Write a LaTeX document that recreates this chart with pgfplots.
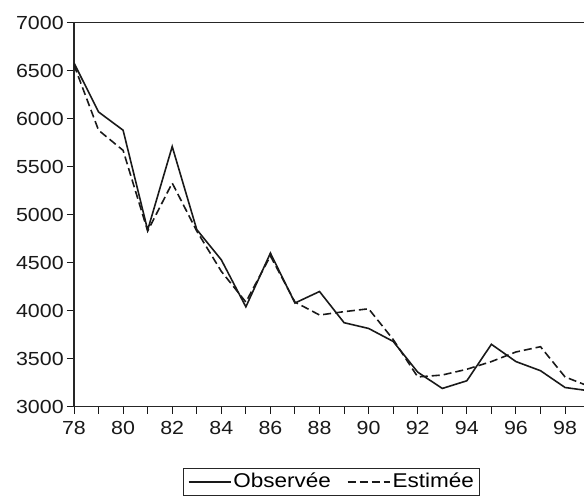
\documentclass[border=0pt]{standalone}
\usepackage{fontspec}
\setmainfont{Liberation Sans}[FakeStretch=1.13]
\usepackage{pgfplots}
\pgfplotsset{compat=1.18}
\begin{document}
\fontsize{18.5}{22}\selectfont
\begin{tikzpicture}
\begin{axis}[
  at={(0,0)}, anchor=south west,
  scale only axis,
  width=515.6bp, height=384bp,
  xmin=78, xmax=99, ymin=3000, ymax=7000,
  xtick={78,80,...,98},
  minor xtick={79,81,...,99},
  ytick={3000,3500,...,7000},
  tick align=outside,
  xtick pos=bottom, ytick pos=left,
  major tick length=7bp, minor tick length=7bp,
  every tick/.style={black!90, line width=1pt},
  /pgf/number format/assume math mode=true,
  /pgf/number format/1000 sep={},
  tick label style={font=\fontsize{19}{22}\selectfont, black!90},
  xticklabel style={yshift=-1bp},
  yticklabel style={xshift=3bp},
  axis line style={line width=1.3pt, black!85},
  legend columns=2,
  legend style={at={(0.5,-0.159)}, anchor=north, draw=black!85, line width=1pt,
    font=\fontsize{20}{24}\selectfont, inner xsep=4bp, inner ysep=3bp,
    /tikz/every even column/.style={column sep=14bp}},
  legend image code/.code={\draw[#1] (0bp,0bp) -- (42bp,0bp);},
]
\addplot[line width=1.6pt, black!90] coordinates {
(78,6580) (79,6070) (80,5880) (81,4840) (82,5710) (83,4845) (84,4530) (85,4040)
(86,4600) (87,4080) (88,4200) (89,3875) (90,3815) (91,3680) (92,3360) (93,3190)
(94,3270) (95,3650) (96,3470) (97,3375) (98,3200) (99,3165)};
\addlegendentry{Observée}
\addplot[line width=1.6pt, black!90, dash pattern=on 8bp off 4bp] coordinates {
(78,6560) (79,5880) (80,5670) (81,4830) (82,5330) (83,4830) (84,4410) (85,4090)
(86,4570) (87,4090) (88,3955) (89,3990) (90,4020) (91,3700) (92,3310) (93,3330)
(94,3390) (95,3470) (96,3570) (97,3625) (98,3310) (99,3210)};
\addlegendentry{Estimée}
\end{axis}
\pgfresetboundingbox
\useasboundingbox (-74bp,-90.3bp) rectangle (510bp,406.7bp);
\end{tikzpicture}
\end{document}
